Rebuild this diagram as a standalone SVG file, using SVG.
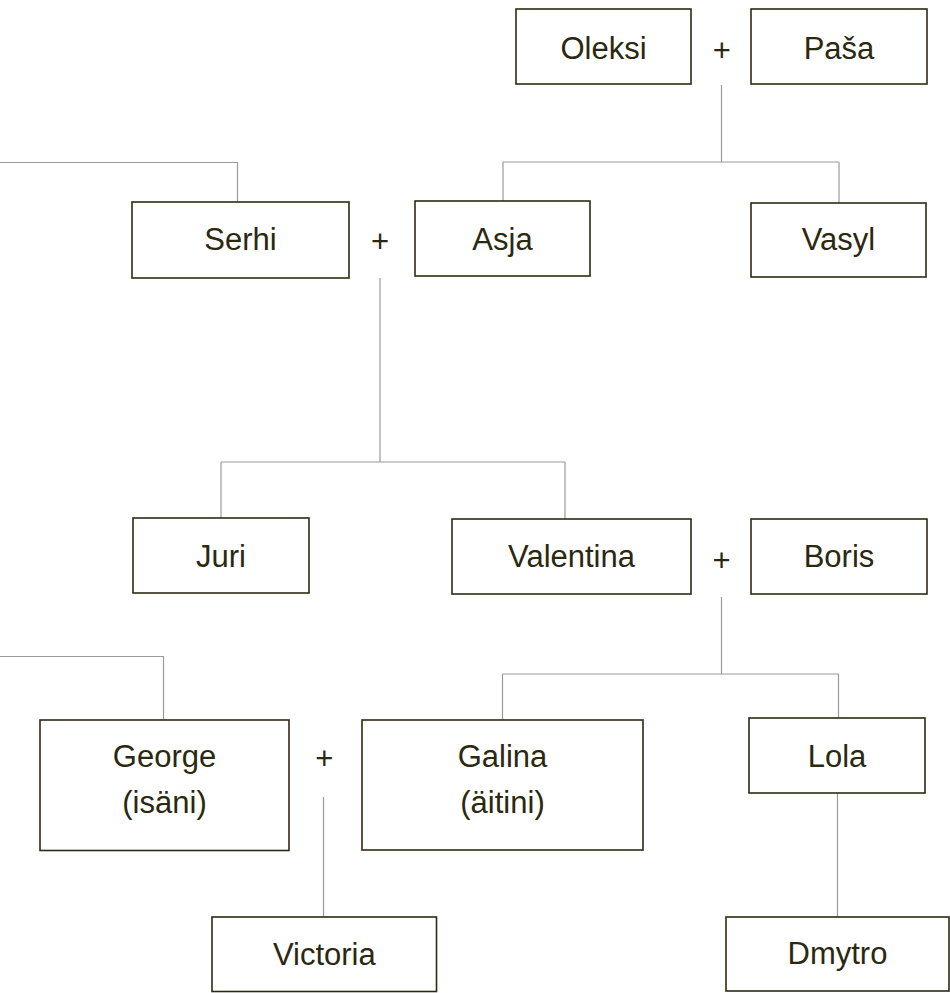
<svg xmlns="http://www.w3.org/2000/svg" width="950" height="993" viewBox="0 0 950 993">
<style>
.box{fill:#fff;stroke:#2e2a12;stroke-width:1.6}
.t{font-family:"Liberation Sans",Arial,sans-serif;font-size:31px;fill:#2b2810;text-anchor:middle}
.c{fill:none;stroke:#9a9a9a;stroke-width:1.2}
</style>
<rect width="950" height="993" fill="#fff"/>
<g id="connectors">
<path class="c" d="M721.5 85V162M503 162H839M503 162V201M839 162V203"/>
<path class="c" d="M0 162.5H237.5V202"/>
<path class="c" d="M380 278V462M221 462H565M221 462V518M565 462V519"/>
<path class="c" d="M721.5 597V674M502.5 674H838.5M502.5 674V720M838.5 674V718"/>
<path class="c" d="M0 656.5H163.5V720"/>
<path class="c" d="M323.5 797V917"/>
<path class="c" d="M837.5 793V917"/>
</g>
<g id="plus">
<text class="t" x="721.7" y="60.7">+</text>
<text class="t" x="380" y="251.5">+</text>
<text class="t" x="721.5" y="570.5">+</text>
<text class="t" x="324.3" y="769.3">+</text>
</g>
<g id="oleksi"><rect class="box" x="516" y="9" width="175" height="75"/><text class="t" x="603.5" y="58.5">Oleksi</text></g>
<g id="pasa"><rect class="box" x="751" y="9" width="176" height="75"/><text class="t" x="839" y="58.5">Paša</text></g>
<g id="serhi"><rect class="box" x="132" y="202" width="217" height="76"/><text class="t" x="240.5" y="249.5">Serhi</text></g>
<g id="asja"><rect class="box" x="415" y="201" width="175" height="75"/><text class="t" x="502.5" y="250">Asja</text></g>
<g id="vasyl"><rect class="box" x="751" y="203" width="175" height="74"/><text class="t" x="838.5" y="250">Vasyl</text></g>
<g id="juri"><rect class="box" x="133" y="518" width="176" height="75"/><text class="t" x="221" y="566.5">Juri</text></g>
<g id="valentina"><rect class="box" x="452" y="519" width="239" height="75"/><text class="t" x="571.5" y="566.5">Valentina</text></g>
<g id="boris"><rect class="box" x="751" y="519" width="176" height="75"/><text class="t" x="839" y="566.5">Boris</text></g>
<g id="george"><rect class="box" x="40" y="720" width="249" height="130.5"/><text class="t" x="164.5" y="767"><tspan x="164.5">George</tspan><tspan x="164.5" y="813">(isäni)</tspan></text></g>
<g id="galina"><rect class="box" x="362" y="720" width="281" height="130"/><text class="t" x="502.5" y="767"><tspan x="502.5">Galina</tspan><tspan x="502.5" y="813">(äitini)</tspan></text></g>
<g id="lola"><rect class="box" x="749" y="718" width="176" height="75"/><text class="t" x="837" y="766.5">Lola</text></g>
<g id="victoria"><rect class="box" x="212" y="917" width="224.5" height="74.5"/><text class="t" x="324.3" y="965">Victoria</text></g>
<g id="dmytro"><rect class="box" x="726" y="917" width="223" height="74"/><text class="t" x="837.5" y="964">Dmytro</text></g>
</svg>
